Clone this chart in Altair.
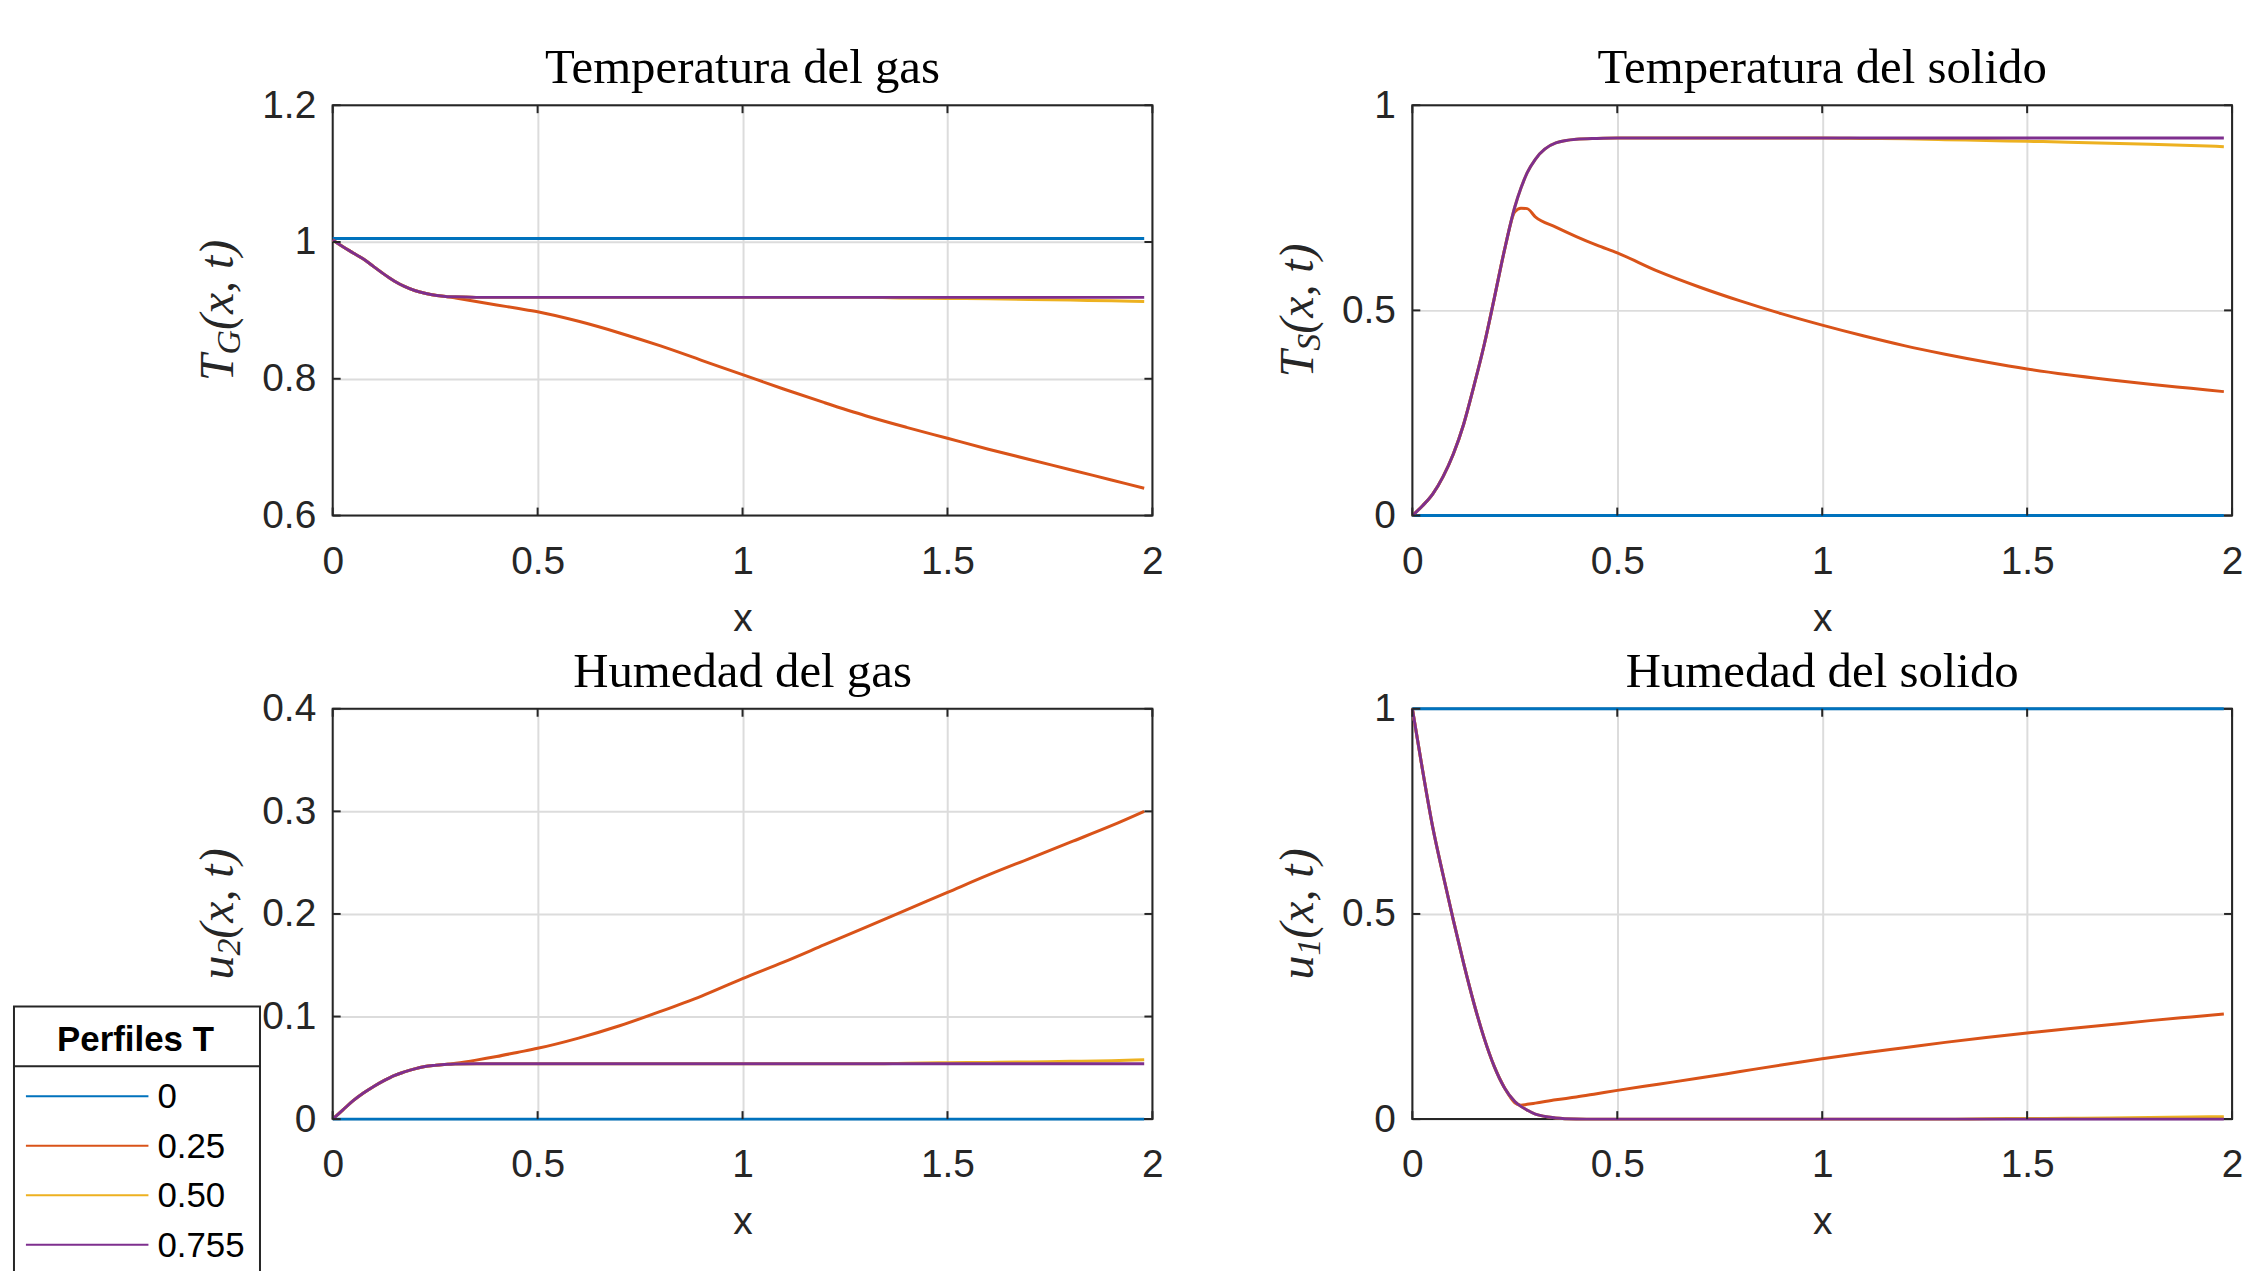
import altair as alt
import pandas as pd

# ---------------- data ----------------
X = [0, 0.025, 0.05, 0.075, 0.1, 0.125, 0.15, 0.175, 0.2, 0.225, 0.25, 0.265, 0.28, 0.3, 0.35,
     0.4, 0.45, 0.5, 0.6, 0.7, 0.8, 0.9, 1.0, 1.1, 1.2, 1.3, 1.4, 1.5, 1.6, 1.7, 1.8, 1.9, 1.98]
X_FLAT = [0, 1.98]

SERIES = ["0", "0.25", "0.50", "0.755"]
COLORS = ["#0072BD", "#D95319", "#EDB120", "#7E2F8E"]

# Temperatura del gas
TG_0 = [1.005, 1.005]
TG_025 = [1.003, 0.993, 0.984, 0.975, 0.964, 0.953, 0.943, 0.935, 0.929, 0.925, 0.922, 0.921, 0.920,
          0.918, 0.913, 0.908, 0.903, 0.898, 0.884, 0.867, 0.848, 0.827, 0.806, 0.785, 0.765, 0.746,
          0.729, 0.713, 0.697, 0.682, 0.667, 0.652, 0.640]
TG_050 = [1.003, 0.993, 0.984, 0.975, 0.964, 0.953, 0.943, 0.935, 0.929, 0.925, 0.922, 0.921, 0.920,
          0.920, 0.919, 0.919, 0.919, 0.919, 0.919, 0.919, 0.919, 0.919, 0.919, 0.919, 0.919, 0.919,
          0.918, 0.9175, 0.917, 0.916, 0.915, 0.914, 0.913]
TG_0755 = [1.003, 0.993, 0.984, 0.975, 0.964, 0.953, 0.943, 0.935, 0.929, 0.925, 0.922, 0.921, 0.920,
           0.920, 0.919, 0.919, 0.919, 0.919, 0.919, 0.919, 0.919, 0.919, 0.919, 0.919, 0.919, 0.919,
           0.919, 0.919, 0.919, 0.919, 0.919, 0.919, 0.919]

# Temperatura del solido
TS_0 = [0.0, 0.0]
TS_025 = [0.0, 0.024, 0.053, 0.095, 0.150, 0.222, 0.315, 0.415, 0.530, 0.648, 0.740, 0.749, 0.748,
          0.728, 0.703, 0.680, 0.659, 0.640, 0.595, 0.557, 0.523, 0.492, 0.464, 0.438, 0.414, 0.393,
          0.374, 0.357, 0.343, 0.331, 0.320, 0.310, 0.302]
TS_050 = [0.0, 0.024, 0.053, 0.095, 0.150, 0.222, 0.315, 0.415, 0.530, 0.648, 0.752, 0.798, 0.835,
          0.868, 0.908, 0.917, 0.919, 0.920, 0.920, 0.920, 0.920, 0.920, 0.920, 0.919, 0.918, 0.916,
          0.914, 0.912, 0.910, 0.907, 0.905, 0.902, 0.899]
TS_0755 = [0.0, 0.024, 0.053, 0.095, 0.150, 0.222, 0.315, 0.415, 0.530, 0.648, 0.752, 0.798, 0.835,
           0.868, 0.908, 0.917, 0.919, 0.920, 0.920, 0.920, 0.920, 0.920, 0.920, 0.920, 0.920, 0.920,
           0.920, 0.920, 0.920, 0.920, 0.920, 0.920, 0.920]

# Humedad del gas
U2_0 = [0.0, 0.0]
U2_025 = [0.0, 0.009, 0.018, 0.0255, 0.0318, 0.0375, 0.0425, 0.046, 0.049, 0.0512, 0.0524, 0.053, 0.0535,
          0.0545, 0.0575, 0.061, 0.065, 0.069, 0.079, 0.091, 0.105, 0.120, 0.137, 0.153, 0.170, 0.187,
          0.204, 0.221, 0.238, 0.254, 0.270, 0.286, 0.300]
U2_050 = [0.0, 0.009, 0.018, 0.0255, 0.0318, 0.0375, 0.0425, 0.046, 0.049, 0.0512, 0.0524, 0.053, 0.0534,
          0.0537, 0.054, 0.054, 0.054, 0.054, 0.054, 0.054, 0.054, 0.054, 0.054, 0.054, 0.054, 0.054,
          0.0545, 0.055, 0.0553, 0.0558, 0.0563, 0.057, 0.0578]
U2_0755 = [0.0, 0.009, 0.018, 0.0255, 0.0318, 0.0375, 0.0425, 0.046, 0.049, 0.0512, 0.0524, 0.053, 0.0534,
           0.0537, 0.054, 0.054, 0.054, 0.054, 0.054, 0.054, 0.054, 0.054, 0.054, 0.054, 0.054, 0.054,
           0.054, 0.054, 0.054, 0.054, 0.054, 0.054, 0.054]

# Humedad del solido
U1_0 = [1.0, 1.0]
U1_025 = [1.0, 0.850, 0.710, 0.595, 0.485, 0.380, 0.283, 0.198, 0.128, 0.076, 0.040, 0.034, 0.036,
          0.039, 0.047, 0.054, 0.062, 0.070, 0.085, 0.100, 0.116, 0.132, 0.147, 0.161, 0.174, 0.187,
          0.199, 0.210, 0.220, 0.230, 0.240, 0.249, 0.256]
U1_050 = [1.0, 0.850, 0.710, 0.595, 0.485, 0.380, 0.283, 0.198, 0.128, 0.076, 0.043, 0.031, 0.022,
          0.012, 0.003, 0.0005, 0.0, 0.0, 0.0, 0.0, 0.0, 0.0, 0.0, 0.0, 0.0, 0.0,
          0.001, 0.0015, 0.002, 0.003, 0.004, 0.005, 0.006]
U1_0755 = [1.0, 0.850, 0.710, 0.595, 0.485, 0.380, 0.283, 0.198, 0.128, 0.076, 0.043, 0.031, 0.022,
           0.012, 0.003, 0.0005, 0.0, 0.0, 0.0, 0.0, 0.0, 0.0, 0.0, 0.0, 0.0, 0.0,
           0.0, 0.0, 0.0, 0.0, 0.0, 0.0, 0.0]

X_TICKS = [0, 0.5, 1, 1.5, 2]
TG_TICKS = [0.6, 0.8, 1, 1.2]
TS_TICKS = [0, 0.5, 1]
U2_TICKS = [0, 0.1, 0.2, 0.3, 0.4]
U1_TICKS = [0, 0.5, 1]

# ---------------- styling ----------------
W, H = 823, 412
TL = 8
INK = "#262626"
GRID = "#dcdcdc"
SANS = "Liberation Sans"
SERIF = "Liberation Serif"
ONE = pd.DataFrame({"k": [0]})

AX_X = alt.Axis(values=X_TICKS, format="~g", grid=True, gridColor=GRID, gridWidth=2,
                domain=False, ticks=False, tickSize=0, labelFont=SANS, labelFontSize=39,
                labelColor=INK, labelPadding=27, labelFlush=False, labelOverlap=False,
                title="x", titleFont=SANS, titleFontSize=39, titleFontWeight="normal",
                titleColor=INK, titlePadding=18, zindex=0)


def y_title(main, sub, main_w, sub_w):
    total = main_w + sub_w + 1.888 * 48
    y0 = H / 2 + total / 2
    parts = [(main, 48, -100, y0), (sub, 34, -93, y0 - main_w), ("(x, t)", 48, -100, y0 - main_w - sub_w)]
    out = []
    for txt, fs, xx, yy in parts:
        out.append(alt.Chart(pd.DataFrame({"t": [txt]})).mark_text(
            font=SERIF, fontStyle="italic", fontSize=fs, angle=270, align="left",
            baseline="alphabetic", color=INK).encode(text="t:N", x=alt.value(xx), y=alt.value(yy)))
    return out


def legend_layers():
    out = []
    out.append(alt.Chart(ONE).mark_rect(fill="white", stroke=INK, strokeWidth=2).encode(
        x=alt.value(-320), x2=alt.value(-73), y=alt.value(299), y2=alt.value(585)))
    out.append(alt.Chart(ONE).mark_rule(color=INK, strokeWidth=2).encode(
        x=alt.value(-320), x2=alt.value(-73), y=alt.value(359)))
    out.append(alt.Chart(pd.DataFrame({"t": ["Perfiles T"]})).mark_text(
        font=SANS, fontWeight="bold", fontSize=35, align="center", baseline="middle", color="black"
    ).encode(text="t:N", x=alt.value(-198), y=alt.value(333)))
    for i, (name, col) in enumerate(zip(SERIES, COLORS)):
        yy = 389 + i * 49.7
        out.append(alt.Chart(ONE).mark_rule(color=col, strokeWidth=2).encode(
            x=alt.value(-308), x2=alt.value(-185), y=alt.value(yy)))
        out.append(alt.Chart(pd.DataFrame({"t": [name]})).mark_text(
            font=SANS, fontSize=35, align="left", baseline="middle", color="black"
        ).encode(text="t:N", x=alt.value(-176), y=alt.value(yy + 1)))
    return out


def panel(title, ydom, yticks, ys_list, main, sub, main_w, sub_w, legend=False):
    xs = alt.X("x:Q", scale=alt.Scale(domain=[0, 2], nice=False, zero=False), axis=AX_X)
    ax_y = alt.Axis(values=yticks, format="~g", grid=True, gridColor=GRID, gridWidth=2,
                    domain=False, ticks=False, tickSize=0, labelFont=SANS, labelFontSize=39,
                    labelColor=INK, labelPadding=17, labelFlush=False, labelOverlap=False,
                    title=None, zindex=0)
    ysc = alt.Y("y:Q", scale=alt.Scale(domain=ydom, nice=False, zero=False), axis=ax_y)

    layers = [alt.Chart(ONE).mark_rect(fill="white", fillOpacity=0, stroke=INK, strokeWidth=2).encode(
        x=alt.value(0), x2=alt.value(W), y=alt.value(0), y2=alt.value(H))]
    for i, (yv, col) in enumerate(zip(ys_list, COLORS)):
        xv = X_FLAT if i == 0 else X
        df = pd.DataFrame({"x": xv, "y": yv})
        layers.append(alt.Chart(df).mark_line(color=col, strokeWidth=3, interpolate="monotone").encode(
            x=xs, y=ysc))
    xt = pd.DataFrame({"x": X_TICKS})
    yt = pd.DataFrame({"y": yticks})
    layers.append(alt.Chart(xt).mark_rule(color=INK, strokeWidth=2).encode(
        x=xs, y=alt.value(0), y2=alt.value(TL)))
    layers.append(alt.Chart(xt).mark_rule(color=INK, strokeWidth=2).encode(
        x=xs, y=alt.value(H - TL), y2=alt.value(H)))
    layers.append(alt.Chart(yt).mark_rule(color=INK, strokeWidth=2).encode(
        y=ysc, x=alt.value(0), x2=alt.value(TL)))
    layers.append(alt.Chart(yt).mark_rule(color=INK, strokeWidth=2).encode(
        y=ysc, x=alt.value(W - TL), x2=alt.value(W)))
    layers += y_title(main, sub, main_w, sub_w)
    if legend:
        layers += legend_layers()
    return alt.layer(*layers).properties(
        width=W, height=H,
        title=alt.TitleParams(text=title, font=SERIF, fontSize=49, fontWeight="normal",
                              color="black", offset=-7, anchor="middle"))


p1 = panel("Temperatura del gas", [0.6, 1.2], TG_TICKS, [TG_0, TG_025, TG_050, TG_0755],
           "T", "G", 26.7, 24.5)
p2 = panel("Temperatura del solido", [0, 1], TS_TICKS, [TS_0, TS_025, TS_050, TS_0755],
           "T", "S", 26.7, 17)
p3 = panel("Humedad del gas", [0, 0.4], U2_TICKS, [U2_0, U2_025, U2_050, U2_0755],
           "u", "2", 24, 17, legend=True)
p4 = panel("Humedad del solido", [0, 1], U1_TICKS, [U1_0, U1_025, U1_050, U1_0755],
           "u", "1", 24, 17)

chart = alt.concat(p1, p2, p3, p4, columns=2, spacing={"row": 194, "column": 261},
                   bounds="flush").properties(
    padding={"left": 4, "top": 33, "right": 0, "bottom": 0}
).configure_view(stroke="transparent").configure(background="white")

chart.save("out.html", embed_options={"renderer": "svg", "actions": False})
